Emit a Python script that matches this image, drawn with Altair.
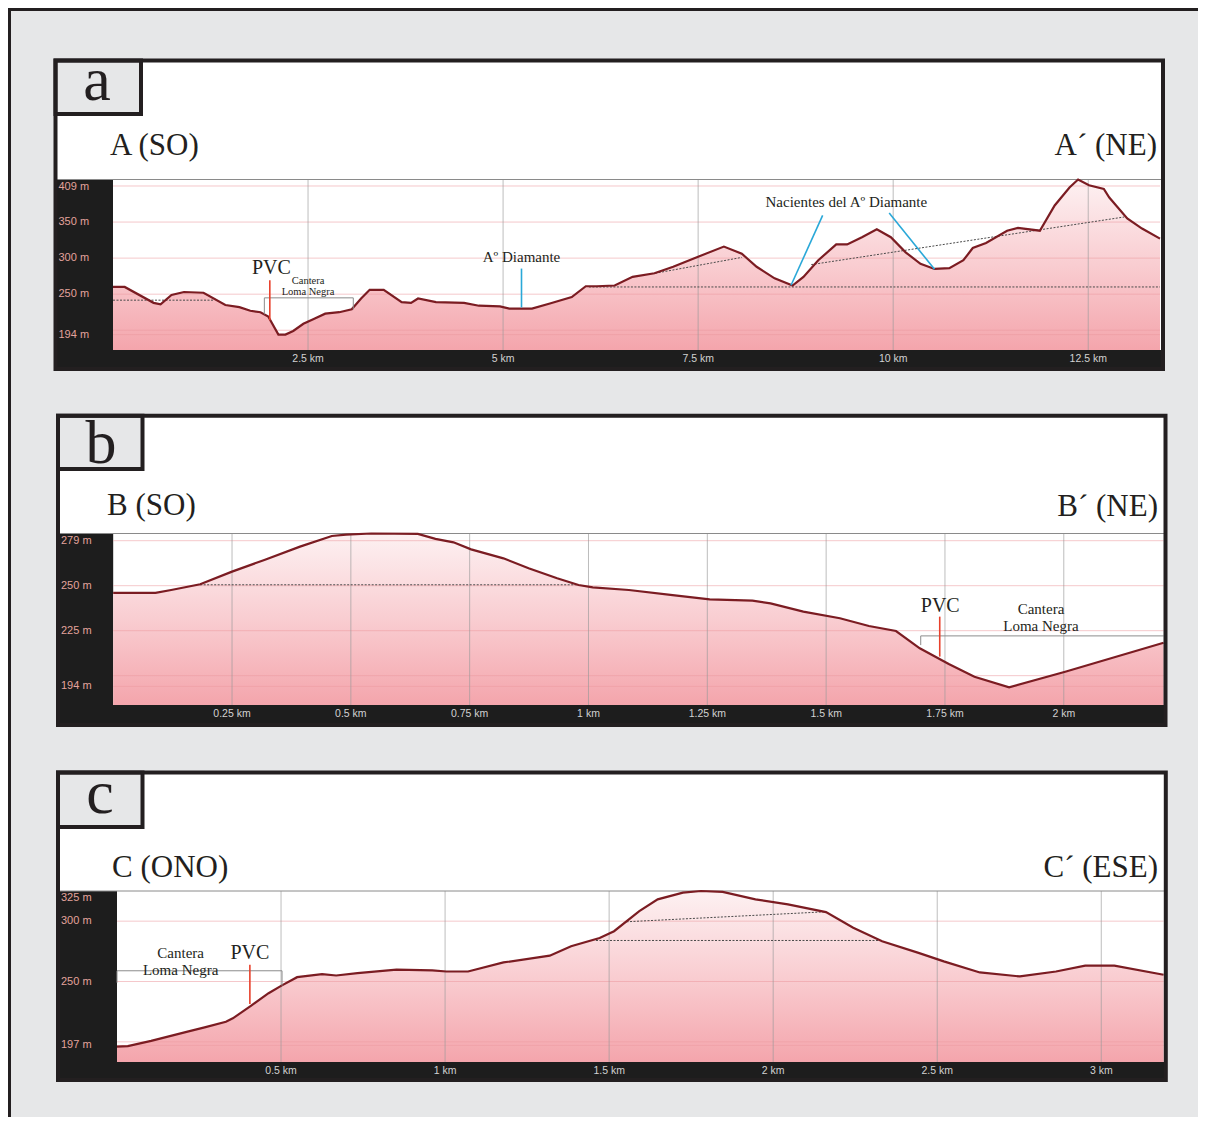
import altair as alt
import pandas as pd

OFF = 8
W, H = 1190, 1109

# ---------------- DATA ----------------
# Panel a: profile A (SO) - A' (NE)
a_km = [0, 0.15, 0.52, 0.61, 0.75, 0.91, 1.16, 1.44, 1.62, 1.76, 1.89, 1.99, 2.12, 2.21, 2.31, 2.44, 2.58, 2.72, 2.9, 3.06,
        3.18, 3.29, 3.47, 3.70, 3.82, 3.91, 4.14, 4.5, 4.69, 4.96, 5.08, 5.37, 5.6, 5.88, 6.06, 6.2, 6.43, 6.66, 6.94, 7.18,
        7.5, 7.83, 8.06, 8.25, 8.48, 8.71, 8.85, 9.04, 9.27, 9.41, 9.6, 9.79, 9.97, 10.16, 10.35, 10.53, 10.72, 10.9, 11.02, 11.19,
        11.46, 11.6, 11.88, 12.07, 12.26, 12.37, 12.51, 12.7, 12.77, 13.0, 13.19, 13.42]
a_m = [260, 260, 238, 236, 249, 253, 252, 235, 232, 227, 225, 219, 194, 194, 199, 209, 216, 223, 225, 229,
       244, 256, 256, 239, 238, 244, 239, 238, 234, 233, 230, 230, 237, 246, 261, 261, 262, 274, 279, 288,
       302, 316, 306, 288, 272, 262, 274, 297, 319, 319, 329, 340, 329, 308, 292, 285, 286, 297, 314, 321,
       338, 342, 338, 373, 398, 409, 401, 396, 384, 355, 341, 327]
a_ticks = [2.5, 5, 7.5, 10, 12.5]
a_tick_labels = ["2.5 km", "5 km", "7.5 km", "10 km", "12.5 km"]
a_ylabels = [350, 300, 250, 194]
a_ymax = 409
a_hgrid = [400, 350, 300, 250, 200, 194]

# Panel b: profile B (SO) - B' (NE)
b_km = [0, 0.089, 0.122, 0.183, 0.25, 0.318, 0.393, 0.46, 0.49, 0.543, 0.641, 0.678, 0.716, 0.753, 0.821, 0.874, 0.934,
        0.979, 1.009, 1.085, 1.177, 1.255, 1.345, 1.383, 1.452, 1.529, 1.59, 1.647, 1.697, 1.758, 1.812, 1.885, 2.003, 2.21]
b_m = [246, 246, 247.6, 250.8, 257.8, 264.3, 271.7, 277.6, 278.4, 279, 278.8, 276, 274.1, 270.2, 265.2, 259.7, 254.1,
       250.4, 249.1, 247.6, 244.8, 242.4, 241.7, 240.2, 235.6, 231.9, 227.6, 224.8, 215.2, 206.5, 199.4, 193.5, 202.2, 218.3]
b_ticks = [0.25, 0.5, 0.75, 1, 1.25, 1.5, 1.75, 2]
b_tick_labels = ["0.25 km", "0.5 km", "0.75 km", "1 km", "1.25 km", "1.5 km", "1.75 km", "2 km"]
b_ylabels = [250, 225, 194]
b_ymax = 279
b_hgrid = [275, 250, 225, 200, 194]

# Panel c: profile C (ONO) - C' (ESE)
c_km = [0, 0.033, 0.104, 0.212, 0.267, 0.332, 0.353, 0.408, 0.462, 0.5, 0.549, 0.625, 0.668, 0.733, 0.852, 0.961, 1.004,
        1.07, 1.178, 1.319, 1.384, 1.471, 1.515, 1.592, 1.648, 1.725, 1.78, 1.846, 1.946, 2.045, 2.161, 2.244, 2.332, 2.443,
        2.52, 2.63, 2.752, 2.862, 2.951, 3.04, 3.19]
c_m = [196, 196.4, 200.8, 208.3, 212, 216.7, 219.5, 229.8, 240.3, 246.4, 253.6, 256.1, 255, 257, 259.8, 259.2, 258.3,
       258.3, 265.8, 271.4, 279.2, 286, 291.7, 308.3, 318.1, 323.7, 325, 324.2, 318.1, 313.9, 307.5, 294.5, 283.3, 273.7,
       266.7, 257.5, 254.2, 258.3, 263.1, 263.1, 255.6]
c_ticks = [0.5, 1, 1.5, 2, 2.5, 3]
c_tick_labels = ["0.5 km", "1 km", "1.5 km", "2 km", "2.5 km", "3 km"]
c_ylabels = [300, 250, 197]
c_ymax = 325
c_hgrid = [300, 250, 200, 197]

# Annotation segments: (x, y, x2, y2) in km / m
a_dotted = [(0, 241.7, 1.3, 241.7), (6.1, 260, 13.42, 260), (6.95, 279, 8.06, 301), (8.95, 291, 12.96, 357)]
b_dotted = [(0.183, 250.5, 0.979, 250.5)]
c_dotted = [(1.46, 284, 2.32, 284), (1.553, 299.5, 2.161, 307.8)]
a_red = [(2.01, 214, 2.01, 269.4)]
b_red = [(1.739, 210.6, 1.739, 232.8)]
c_red = [(0.405, 231.4, 0.405, 263.9)]
a_cyan = [(5.236, 231.6, 5.236, 285.5), (9.096, 359.2, 8.691, 262.4), (9.949, 362.4, 10.53, 284.6)]
a_bracket = [(1.94, 244.9, 3.08, 244.9), (1.94, 244.9, 1.94, 222), (3.08, 244.9, 3.08, 229)]
b_bracket = [(1.699, 222.1, 2.21, 222.1), (1.699, 222.1, 1.699, 217)]
c_bracket = [(0, 258.9, 0.503, 258.9), (0.503, 258.9, 0.503, 246.5), (0, 258.9, 0, 249)]

# Annotation texts: (km, m, text)
a_big = [(2.03, 277.7, "PVC")]
a_mid = [(5.236, 294.2, "Aº Diamante"), (9.40, 370.3, "Nacientes del Aº Diamante")]
a_small = [(2.5, 264.8, "Cantera"), (2.5, 248.2, "Loma Negra")]
b_big = [(1.740, 235.6, "PVC")]
b_mid = [(1.952, 234.1, "Cantera"), (1.952, 224.8, "Loma Negra")]
c_big = [(0.405, 268.9, "PVC")]
c_mid = [(0.194, 269.5, "Cantera"), (0.194, 255.6, "Loma Negra")]

# ---------------- LAYOUT (page pixels) ----------------
panels = [
    dict(km=a_km, m=a_m, ticks=a_ticks, tlabels=a_tick_labels, ylabels=a_ylabels, ymax=a_ymax, hgrid=a_hgrid,
         dotted=a_dotted, red=a_red, cyan=a_cyan, bracket=a_bracket, big=a_big, mid=a_mid, small=a_small,
         box=(55.5, 60.5, 1163, 369), lab=(55.5, 60.5, 141, 114), pl=113, pt=179.5, pr=1160, pb=350,
         xdom=[0, 13.42], ydom=[172.6, 409], letter="a", lx=97, ly=100,
         tl=("A (SO)", 110, 155), tr=("A\u00b4 (NE)", 1157, 155), xly=359),
    dict(km=b_km, m=b_m, ticks=b_ticks, tlabels=b_tick_labels, ylabels=b_ylabels, ymax=b_ymax, hgrid=b_hgrid,
         dotted=b_dotted, red=b_red, cyan=[], bracket=b_bracket, big=b_big, mid=b_mid, small=[],
         box=(58, 415.8, 1165.5, 725), lab=(58, 415.8, 142.5, 469), pl=113.2, pt=533.5, pr=1163.6, pb=705,
         xdom=[0, 2.21], ydom=[183.7, 279], letter="b", lx=101, ly=463,
         tl=("B (SO)", 107, 515), tr=("B\u00b4 (NE)", 1158, 516), xly=714),
    dict(km=c_km, m=c_m, ticks=c_ticks, tlabels=c_tick_labels, ylabels=c_ylabels, ymax=c_ymax, hgrid=c_hgrid,
         dotted=c_dotted, red=c_red, cyan=[], bracket=c_bracket, big=c_big, mid=c_mid, small=[],
         box=(58, 772.5, 1165.8, 1080), lab=(58, 772.5, 142.5, 827), pl=117, pt=891, pr=1163.6, pb=1062,
         xdom=[0, 3.19], ydom=[183.3, 325], letter="c", lx=100, ly=813,
         tl=("C (ONO)", 112, 877), tr=("C\u00b4 (ESE)", 1158, 877), xly=1071),
]

SERIF = "Liberation Serif"
SANS = "Liberation Sans"
INK = "#231f20"
DUMMY = pd.DataFrame({"d": [0]})


def px(v):
    return v - OFF


grad = alt.Gradient(
    gradient="linear",
    stops=[alt.GradientStop(color="#fdf1f2", offset=0),
           alt.GradientStop(color="#f9cdd1", offset=0.5),
           alt.GradientStop(color="#f4a5ac", offset=1)],
    x1=1, x2=1, y1=0, y2=1,
)


def pix_rect(x, x2, y, y2, **kw):
    return alt.Chart(DUMMY).mark_rect(**kw).encode(
        x=alt.value(px(x)), x2=alt.value(px(x2)), y=alt.value(px(y)), y2=alt.value(px(y2)))


def pix_rule(x, x2, y, y2, **kw):
    return alt.Chart(DUMMY).mark_rule(**kw).encode(
        x=alt.value(px(x)), x2=alt.value(px(x2)), y=alt.value(px(y)), y2=alt.value(px(y2)))


def make_panel(p):
    xs = alt.Scale(domain=p["xdom"], range=[px(p["pl"]), px(p["pr"])], nice=False, zero=False)
    ys = alt.Scale(domain=p["ydom"], range=[px(p["pb"]), px(p["pt"])], nice=False, zero=False)

    def X(f):
        return alt.X(f, type="quantitative", scale=xs, axis=None)

    def Y(f):
        return alt.Y(f, type="quantitative", scale=ys, axis=None)

    bl, bt, br, bb = p["box"]
    L = []
    L.append(pix_rect(bl, br, bt, bb, fill="white"))
    la, lb, lc, ld = p["lab"]
    L.append(pix_rect(la, lc, lb, ld, fill="#e6e7e8"))
    L.append(pix_rect(bl, p["pl"], p["pt"], bb, fill="#1d1d1d"))
    L.append(pix_rect(bl, br, p["pb"], bb, fill="#1d1d1d"))

    prof = pd.DataFrame({"km": p["km"], "m": p["m"]})
    prof["base"] = p["ydom"][0]
    L.append(alt.Chart(prof).mark_area(color=grad).encode(x=X("km"), y=Y("m"), y2=alt.Y2("base")))

    hg = pd.DataFrame({"v": p["hgrid"]})
    L.append(alt.Chart(hg).mark_rule(color="#ec9aa0", opacity=0.55, strokeWidth=1).encode(
        y=Y("v"), x=alt.value(px(p["pl"])), x2=alt.value(px(p["pr"]))))
    vg = pd.DataFrame({"t": p["ticks"], "lab": p["tlabels"]})
    L.append(alt.Chart(vg).mark_rule(color="#9a9a9a", opacity=0.65, strokeWidth=1).encode(
        x=X("t"), y=alt.value(px(p["pt"])), y2=alt.value(px(p["pb"]))))
    L.append(pix_rule(bl, br, p["pt"], p["pt"], color="#8a8a8a", strokeWidth=1))

    def segs(lst, **kw):
        df = pd.DataFrame(lst, columns=["x", "y", "x2", "y2"])
        return alt.Chart(df).mark_rule(**kw).encode(
            x=X("x"), y=Y("y"), x2=alt.X2("x2"), y2=alt.Y2("y2"))

    L.append(segs(p["dotted"], color="#4a4a4a", strokeWidth=1, strokeDash=[2, 1.5]))
    L.append(alt.Chart(prof).mark_line(color="#7b1c22", strokeWidth=2.2).encode(x=X("km"), y=Y("m")))
    L.append(segs(p["bracket"], color="#8c8c8c", strokeWidth=1))
    L.append(segs(p["red"], color="#e8412c", strokeWidth=1.6))
    if p["cyan"]:
        L.append(segs(p["cyan"], color="#2aa8d8", strokeWidth=1.6))

    def texts(lst, size):
        df = pd.DataFrame(lst, columns=["x", "y", "t"])
        return alt.Chart(df).mark_text(font=SERIF, fontSize=size, color=INK, align="center",
                                       baseline="alphabetic").encode(x=X("x"), y=Y("y"), text="t:N")

    L.append(texts(p["big"], 20))
    L.append(texts(p["mid"], 15))
    if p["small"]:
        L.append(texts(p["small"], 10.5))

    # tick labels
    L.append(alt.Chart(vg).mark_text(font=SANS, fontSize=10.5, color="#d2d2d2", align="center",
                                     baseline="middle").encode(x=X("t"), y=alt.value(px(p["xly"])), text="lab:N"))
    yl = pd.DataFrame({"v": p["ylabels"]})
    yl["lab"] = [f"{v} m" for v in p["ylabels"]]
    L.append(alt.Chart(yl).mark_text(font=SANS, fontSize=11, color="#e3a39c", align="left",
                                     baseline="middle").encode(x=alt.value(px(bl + 3)), y=Y("v"), text="lab:N"))
    ym = pd.DataFrame({"v": [p["ymax"]], "lab": [f"{p['ymax']} m"]})
    L.append(alt.Chart(ym).mark_text(font=SANS, fontSize=11, color="#e3a39c", align="left",
                                     baseline="top", dy=1).encode(x=alt.value(px(bl + 3)), y=Y("v"), text="lab:N"))

    # headers
    t, x, y = p["tl"]
    L.append(alt.Chart(DUMMY).mark_text(text=t, font=SERIF, fontSize=31, color=INK, align="left",
                                        baseline="alphabetic").encode(x=alt.value(px(x)), y=alt.value(px(y))))
    t, x, y = p["tr"]
    L.append(alt.Chart(DUMMY).mark_text(text=t, font=SERIF, fontSize=31, color=INK, align="right",
                                        baseline="alphabetic").encode(x=alt.value(px(x)), y=alt.value(px(y))))
    L.append(alt.Chart(DUMMY).mark_text(text=p["letter"], font=SERIF, fontSize=62, color=INK, align="center",
                                        baseline="alphabetic").encode(x=alt.value(px(p["lx"])), y=alt.value(px(p["ly"]))))

    # borders on top
    L.append(pix_rect(la, lc, lb, ld, fillOpacity=0, stroke=INK, strokeWidth=4))
    L.append(pix_rect(bl, br, bt, bb, fillOpacity=0, stroke=INK, strokeWidth=4))
    return L


layers = []
for p in panels:
    layers += make_panel(p)
# outer frame (top and left)
layers.append(pix_rule(OFF, OFF + W, OFF + 1.5, OFF + 1.5, color=INK, strokeWidth=3))
layers.append(pix_rule(OFF + 1.5, OFF + 1.5, OFF, OFF + H, color=INK, strokeWidth=3))

chart = alt.layer(*layers).resolve_scale(x="independent", y="independent").properties(
    width=W, height=H, background="#e6e7e8", padding=0,
    autosize=alt.AutoSizeParams(type="none"),
).configure_view(stroke=None)

chart.save("out.html", embed_options={"renderer": "svg", "actions": False})
